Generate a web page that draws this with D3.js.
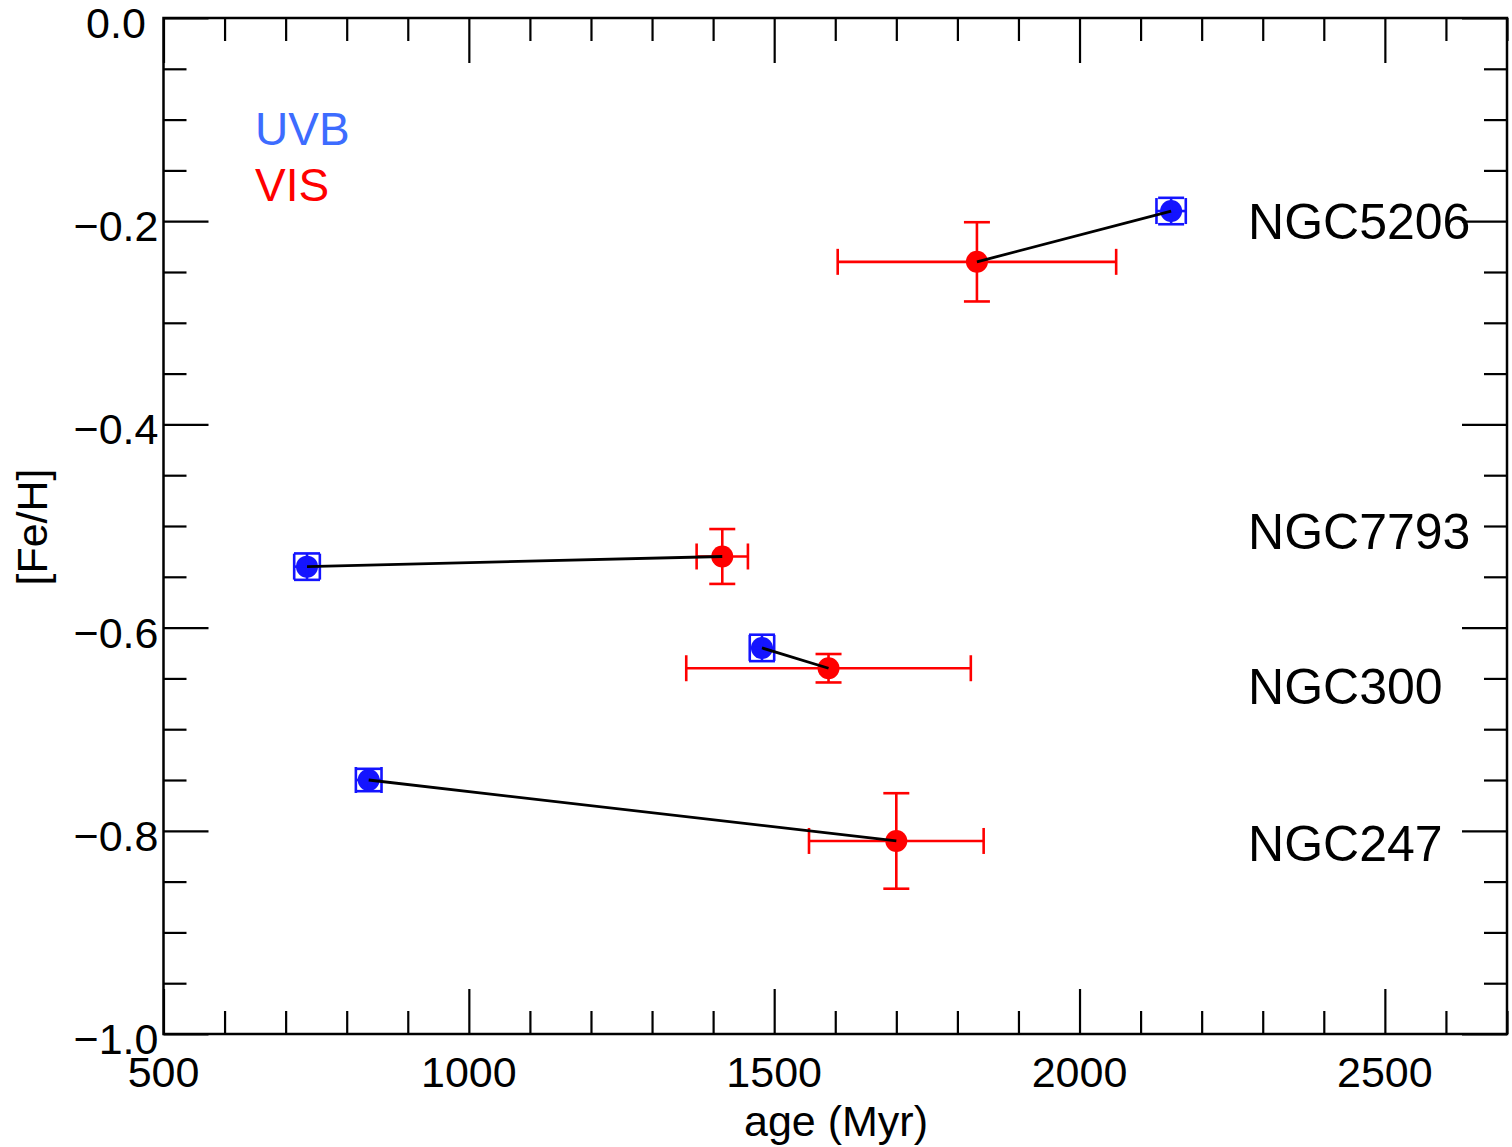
<!DOCTYPE html>
<html>
<head>
<meta charset="utf-8">
<script src="https://cdn.jsdelivr.net/npm/d3@7"></script>
<style>
  html, body { margin: 0; padding: 0; background: #fff; }
  svg text { font-family: "Liberation Sans", Arial, Helvetica, sans-serif; }
</style>
</head>
<body>
<svg id="chart" width="1512" height="1147"></svg>
<script>
// Galaxy sample: age and metallicity from the UVB and VIS arms
const galaxies   = ["NGC5206", "NGC7793", "NGC300", "NGC247"];
const uvbAge     = [2150, 735, 1480, 836];
const uvbAgeErr  = [24, 21, 20, 21];
const uvbFeH     = [-0.19, -0.54, -0.62, -0.75];
const uvbFeHErr  = [0.013, 0.013, 0.013, 0.011];
const visAge     = [1832, 1415, 1589, 1700];
const visAgeErr  = [228, 42, 233, 143];
const visFeH     = [-0.24, -0.53, -0.64, -0.81];
const visFeHErr  = [0.039, 0.027, 0.014, 0.047];
// where each galaxy name sits (data coordinates)
const nameAge    = 2276;
const nameFeH    = [-0.2, -0.505, -0.657, -0.812];

const xMajor = [500, 1000, 1500, 2000, 2500];
const yMajor = [0.0, -0.2, -0.4, -0.6, -0.8, -1.0];
const yTickLabels = ["0.0", "\u22120.2", "\u22120.4", "\u22120.6", "\u22120.8", "\u22121.0"];

const svg = d3.select("#chart");
const L = 163.5, R = 1507, T = 18, B = 1034;
const x = d3.scaleLinear().domain([500, 2700]).range([L, R]);
const y = d3.scaleLinear().domain([-1, 0]).range([B, T]);

const xMinor = d3.range(500, 2701, 100).filter(v => !xMajor.includes(v));
const yMinor = d3.range(0, 21).map(i => -i * 0.05).filter(v => !yMajor.some(m => Math.abs(m - v) < 1e-9));

const MAJ = 45, MIN = 23;
const axisStyle = g => {
  g.select(".domain").remove();
  g.selectAll(".tick line").attr("stroke", "#000").attr("stroke-width", 2.2);
  g.selectAll(".tick text").remove();
};

// inward ticks on all four sides
svg.append("g").attr("transform", `translate(0,${B})`).call(d3.axisBottom(x).tickValues(xMajor).tickSize(-MAJ)).call(axisStyle);
svg.append("g").attr("transform", `translate(0,${B})`).call(d3.axisBottom(x).tickValues(xMinor).tickSize(-MIN)).call(axisStyle);
svg.append("g").attr("transform", `translate(0,${T})`).call(d3.axisTop(x).tickValues(xMajor).tickSize(-MAJ)).call(axisStyle);
svg.append("g").attr("transform", `translate(0,${T})`).call(d3.axisTop(x).tickValues(xMinor).tickSize(-MIN)).call(axisStyle);
svg.append("g").attr("transform", `translate(${L},0)`).call(d3.axisLeft(y).tickValues(yMajor).tickSize(-MAJ)).call(axisStyle);
svg.append("g").attr("transform", `translate(${L},0)`).call(d3.axisLeft(y).tickValues(yMinor).tickSize(-MIN)).call(axisStyle);
svg.append("g").attr("transform", `translate(${R},0)`).call(d3.axisRight(y).tickValues(yMajor).tickSize(-MAJ)).call(axisStyle);
svg.append("g").attr("transform", `translate(${R},0)`).call(d3.axisRight(y).tickValues(yMinor).tickSize(-MIN)).call(axisStyle);

// frame
svg.append("rect").attr("x", L).attr("y", T).attr("width", R - L).attr("height", B - T)
  .attr("fill", "none").attr("stroke", "#000").attr("stroke-width", 2.5);

// tick labels
svg.append("g").selectAll("text").data(xMajor).join("text")
  .attr("x", d => x(d)).attr("y", B + 53)
  .attr("text-anchor", "middle").attr("font-size", 43).attr("fill", "#000")
  .text(d => d);
svg.append("g").selectAll("text").data(yMajor).join("text")
  .attr("x", 116).attr("y", d => y(d) + 20)
  .attr("text-anchor", "middle").attr("font-size", 43).attr("fill", "#000")
  .text((d, i) => yTickLabels[i]);

// axis titles
svg.append("text").attr("x", 836).attr("y", 1136).attr("text-anchor", "middle")
  .attr("font-size", 43).text("age (Myr)");
svg.append("text").attr("transform", "translate(47,527) rotate(-90)").attr("text-anchor", "middle")
  .attr("font-size", 43).text("[Fe/H]");

// legend
svg.append("text").attr("x", 255).attr("y", 145).attr("font-size", 46).attr("fill", "#3d6cff").text("UVB");
svg.append("text").attr("x", 255).attr("y", 201).attr("font-size", 46).attr("fill", "#ff0000").text("VIS");

// galaxy names
svg.append("g").selectAll("text").data(galaxies).join("text")
  .attr("x", x(nameAge)).attr("y", (d, i) => y(nameFeH[i]) + 18)
  .attr("font-size", 50).attr("fill", "#000").text(d => d);

const rows = galaxies.map((g, i) => ({
  g,
  uvb: { a: uvbAge[i], ae: uvbAgeErr[i], f: uvbFeH[i], fe: uvbFeHErr[i] },
  vis: { a: visAge[i], ae: visAgeErr[i], f: visFeH[i], fe: visFeHErr[i] }
}));

const CAP = 13;
function drawSet(key, color) {
  const grp = svg.append("g");
  const pts = rows.map(r => r[key]);
  grp.selectAll("circle").data(pts).join("circle")
    .attr("cx", d => x(d.a)).attr("cy", d => y(d.f)).attr("r", 11)
    .attr("fill", color);
  const eb = grp.selectAll("g.eb").data(pts).join("g").attr("class", "eb")
    .attr("stroke", color).attr("stroke-width", 2.6).attr("fill", "none");
  // horizontal (age) error
  eb.append("line").attr("x1", d => x(d.a - d.ae)).attr("x2", d => x(d.a + d.ae))
    .attr("y1", d => y(d.f)).attr("y2", d => y(d.f));
  eb.append("line").attr("x1", d => x(d.a - d.ae)).attr("x2", d => x(d.a - d.ae))
    .attr("y1", d => y(d.f) - CAP).attr("y2", d => y(d.f) + CAP);
  eb.append("line").attr("x1", d => x(d.a + d.ae)).attr("x2", d => x(d.a + d.ae))
    .attr("y1", d => y(d.f) - CAP).attr("y2", d => y(d.f) + CAP);
  // vertical ([Fe/H]) error
  eb.append("line").attr("x1", d => x(d.a)).attr("x2", d => x(d.a))
    .attr("y1", d => y(d.f - d.fe)).attr("y2", d => y(d.f + d.fe));
  eb.append("line").attr("x1", d => x(d.a) - CAP).attr("x2", d => x(d.a) + CAP)
    .attr("y1", d => y(d.f - d.fe)).attr("y2", d => y(d.f - d.fe));
  eb.append("line").attr("x1", d => x(d.a) - CAP).attr("x2", d => x(d.a) + CAP)
    .attr("y1", d => y(d.f + d.fe)).attr("y2", d => y(d.f + d.fe));
}
drawSet("uvb", "#1414ff");
drawSet("vis", "#ff0000");

// connect the two measurements of each galaxy
svg.append("g").selectAll("line").data(rows).join("line")
  .attr("x1", d => x(d.uvb.a)).attr("y1", d => y(d.uvb.f))
  .attr("x2", d => x(d.vis.a)).attr("y2", d => y(d.vis.f))
  .attr("stroke", "#000").attr("stroke-width", 2.8);
</script>
</body>
</html>
